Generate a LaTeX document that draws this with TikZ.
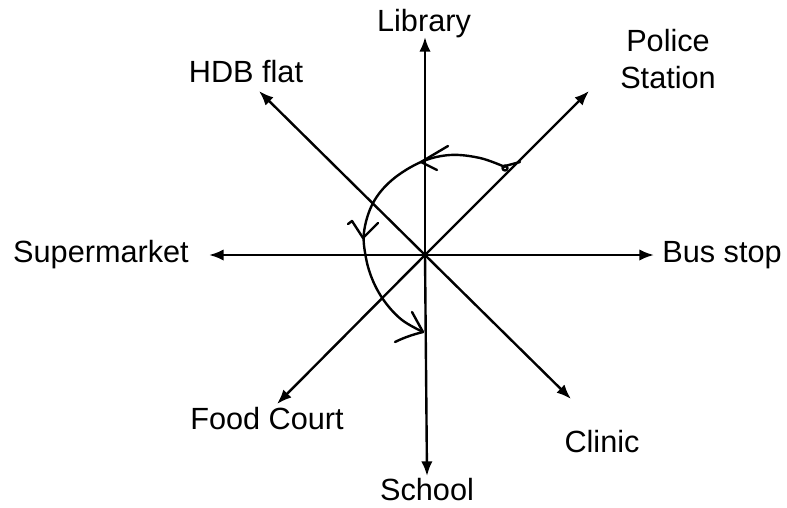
\documentclass[tikz,border=0pt]{standalone}
\usepackage{fontspec}
\setmainfont{Liberation Sans}
\usetikzlibrary{arrows.meta}
\begin{document}
\begin{tikzpicture}[x=0.75pt,y=-0.75pt,
  axis/.style={line width=1.8pt,-{Latex[length=11pt,width=8.5pt]}},
  lbl/.style={inner sep=0pt,font=\fontsize{23}{28}\selectfont,align=center},
  route/.style={line width=1.8pt,line cap=round,line join=round}]
\useasboundingbox (0,0) rectangle (787,507);
\coordinate (O) at (425,255);
\coordinate (tN) at (425,37);
\coordinate (tS) at (427,476);
\coordinate (tE) at (654,255);
\coordinate (tW) at (209,255);
\coordinate (tNE) at (589,91);
\coordinate (tNW) at (259,91);
\coordinate (tSW) at (277,404);
\coordinate (tSE) at (571,399);
\node[lbl] (lib) at (424,24) {Library};
\node[lbl] (pol) at (668,59) {Police\\Station};
\node[lbl] (hdb) at (246,72) {HDB flat};
\node[lbl] (sup) at (101,255) {Supermarket};
\node[lbl] (bus) at (722,255) {Bus stop};
\node[lbl] (food) at (267,419) {Food Court};
\node[lbl] (cli) at (602,442) {Clinic};
\node[lbl] (sch) at (427,490) {School};
\foreach \t in {tN,tS,tE,tW,tNE,tNW,tSW,tSE}
  \draw[axis] (O) -- (\t);
% hand-drawn route
\draw[route] plot[smooth,tension=0.6] coordinates {(505,167) (480,158) (450,155) (421,162) (392,180) (373,203) (364,232) (366,258) (373,281) (385,302) (402,320) (423,332)};
\draw[route] (505,168) circle (2.5);
\draw[route] (505,166) -- (520,162);
% arrowhead at library axis
\draw[route] (448,146) -- (421,162) -- (437,170);
% arrowhead on left
\draw[route] (348,224) -- (352,221) -- (363,238) -- (378,223);
% end arrowhead
\draw[route] (412,312) -- (423,332);
\draw[route] (395,342) .. controls (405,337) and (415,334) .. (423,332);
\end{tikzpicture}
\end{document}
